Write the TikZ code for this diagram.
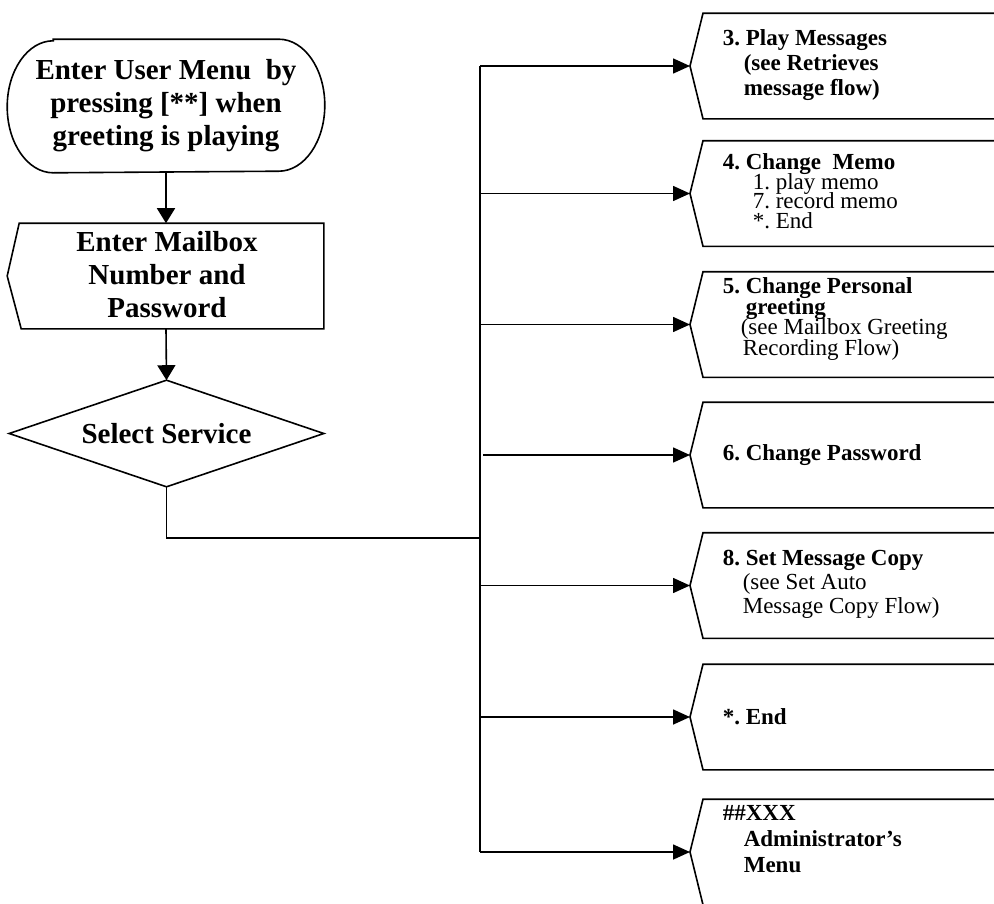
\documentclass[tikz,border=0pt]{standalone}
\usepackage{fontspec}
\setmainfont{Liberation Serif}
\usetikzlibrary{arrows.meta}
\lineskiplimit=-100pt
\frenchspacing
\begin{document}
\begin{tikzpicture}[x=1pt,y=-1pt,
  line width=1.6pt,
  arr/.style={-{Triangle[length=17pt,width=15pt]}},
  darr/.style={-{Triangle[length=15pt,width=18pt]}},
  lbig/.style={font=\fontsize{29}{33}\selectfont\bfseries, align=center},
  shp/.style={inner sep=0pt, minimum height=104pt},
  rshp/.style={shp, minimum width=320pt, anchor=west},
  rtext/.style={anchor=west, align=left, inner sep=0pt, font=\fontsize{23}{25}\selectfont},
  tight/.style={font=\fontsize{23}{19.5}\selectfont},
]
\useasboundingbox (0,0) rectangle (994,903);
\clip (0,0) rectangle (994,903);

% ---- left column ----
\node[shp, lbig, minimum width=316pt, minimum height=132pt] (start) at (166,106)
  {Enter User Menu\ \ by\\pressing [**] when\\greeting is playing};
\draw ([xshift=46pt]start.north west) -- ([xshift=-46pt]start.north east)
  arc[start angle=-90,end angle=90,x radius=46,y radius=66]
  -- ([xshift=46pt]start.south west)
  arc[start angle=90,end angle=270,x radius=46,y radius=66] -- cycle;

\node[shp, minimum width=303pt] (mb) at (171.5,276) {};
\draw (mb.north west) -- (mb.north east) -- (mb.south east)
  -- ([xshift=2pt]mb.south west) -- ([xshift=-12pt]mb.west) -- cycle;
\node[lbig] (mbt) at (167,275) {Enter Mailbox\\Number and\\Password};

\node[shp, lbig, minimum width=313pt, minimum height=105pt] (sel) at (166.5,433.5) {Select Service};
\draw (sel.north) -- (sel.east) -- (sel.south) -- (sel.west) -- cycle;

\draw[darr] (start.south) -- (start.south |- mb.north);
\draw[darr] (start.south |- mb.south) -- (sel.north);

% ---- bus ----
\coordinate (j) at (480,538);
\coordinate (bt) at (480,66);
\coordinate (bb) at (480,852);
\draw (sel.south) |- (j);
\draw (bt) -- (bb);

% ---- right boxes ----
\node[rshp] (b3) at (703,66) {};
\node[rshp] (b4) at (703,193.5) {};
\node[rshp] (b5) at (703,324.5) {};
\node[rshp] (b6) at (703,455) {};
\node[rshp] (b8) at (703,585.5) {};
\node[rshp] (bE) at (703,717) {};
\node[rshp] (bX) at (703,852) {};
\foreach \b in {b3,b4,b5,b6,b8,bE,bX}{
  \coordinate (p\b) at ([xshift=-13pt]\b.west);
  \draw (p\b) -- (\b.north west) -- (\b.north east) -- (\b.south east) -- (\b.south west) -- cycle;
}
\coordinate (s3) at (480,66);
\coordinate (s4) at (480,193.5);
\coordinate (s5) at (480,324.5);
\coordinate (s6) at (483,455);
\coordinate (s8) at (480,585.5);
\coordinate (sE) at (480,717);
\coordinate (sX) at (480,852);
\foreach \s/\b in {s3/b3,s4/b4,s5/b5,s6/b6,s8/b8,sE/bE,sX/bX}{
  \draw[arr] (\s) -- (p\b);
}

\node[rtext] (t3) at (722,65)
  {\textbf{3.~Play Messages}\\\hspace*{21pt}\textbf{(see Retrieves}\\\hspace*{21pt}\textbf{message flow)}};
\node[rtext, tight] (t4) at (722,191)
  {\textbf{4.~Change\ \ Memo}\\\hspace*{30pt}1. play memo\\\hspace*{30pt}7. record memo\\\hspace*{30pt}*. End};
\node[rtext, font=\fontsize{23}{20.5}\selectfont] (t5) at (722,319)
  {\textbf{5.~Change Personal}\\\hspace*{23pt}\textbf{greeting}\\\hspace*{18pt}(see Mailbox Greeting\\\hspace*{20pt}Recording Flow)};
\node[rtext] (t6) at (722,455) {\textbf{6. Change Password}};
\node[rtext, font=\fontsize{23}{24}\selectfont] (t8) at (722,584)
  {\textbf{8. Set Message Copy}\\\hspace*{20pt}(see Set Auto\\\hspace*{20pt}Message Copy Flow)};
\node[rtext] (tE) at (722,717) {\textbf{*. End}};
\node[rtext, font=\fontsize{23}{26}\selectfont] (tX) at (722,839)
  {\textbf{\#\#XXX}\\\hspace*{21pt}\textbf{Administrator’s}\\\hspace*{21pt}\textbf{Menu}};
\end{tikzpicture}
\end{document}
